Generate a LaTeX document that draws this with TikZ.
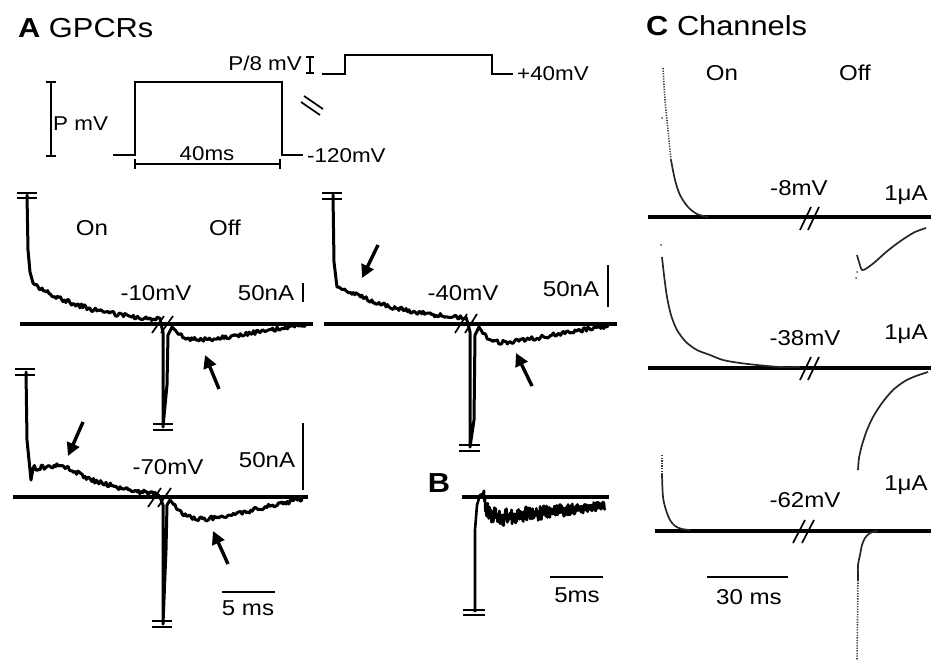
\documentclass[tikz,border=0pt]{standalone}
\usepackage{fontspec}
\setmainfont[FakeStretch=1.12]{Liberation Sans}
\usetikzlibrary{arrows.meta}
\begin{document}
\begin{tikzpicture}[x=1pt,y=-1pt,
  trace/.style={line width=3pt,line join=round,line cap=round},
  base/.style={line width=3.4pt},
  cbase/.style={line width=3.8pt},
  lbl/.style={font=\fontsize{21.5}{24}\selectfont,inner sep=0pt},
  plbl/.style={font=\fontsize{20}{22}\selectfont,inner sep=0pt},
  ttl/.style={font=\fontsize{27.5}{30}\selectfont,inner sep=0pt},
  brk/.style={line width=1.7pt},
  eqm/.style={line width=1.9pt},
  arr/.style={line width=3.4pt,-{Triangle[length=13pt,width=13pt]}},
  proto/.style={line width=1.7pt},
  sbar/.style={line width=1.7pt},
  ctr/.style={line width=1.7pt,black!85,line join=round},
  cdot/.style={line width=1.6pt,black!75,dash pattern=on 1.3pt off 1.3pt}]
\useasboundingbox (0,0) rectangle (931,664);
\pgfmathsetseed{7}

% ---------- titles ----------
\node[ttl,anchor=base west] (tA) at (18,37) {\textbf{A} GPCRs};
\node[ttl,anchor=base west] (tC) at (646,35) {\textbf{C} Channels};

% ---------- protocol ----------
\draw[proto] (51,82) -- (51,156) (46,82) -- (56,82) (46,156) -- (56,156);
\node[plbl,anchor=base west] (pmv) at (53,130) {P mV};
\draw[proto] (113,155) -- (135,155) -- (135,82) -- (282,82) -- (282,155) -- (303,155);
\node[plbl,anchor=base west] (m120) at (307,162) {-120mV};
\node[plbl,anchor=base] (t40) at (207,160) {40ms};
\draw[proto] (135,164) -- (280,164) (135,159) -- (135,169) (280,159) -- (280,169);
\node[plbl,anchor=base east] (p8) at (302,70) {P/8 mV};
\draw[proto] (310,57) -- (310,73) (306,57) -- (314,57) (306,73) -- (314,73);
\draw[proto] (322,74) -- (345,74) -- (345,55) -- (492,55) -- (492,74) -- (513,74);
\node[plbl,anchor=base west] (p40) at (517,80) {+40mV};
\draw[proto] (304,96) -- (323,109) (301,102) -- (320,115);

% ---------- trace 1 (-10 mV) ----------
\draw[base] (20,324) -- (313,324);
\draw[eqm] (17,193) -- (37,193) (17,198) -- (37,198);
\draw[trace] (27,195) -- (28,250) -- (30,272) -- (33,283)
  -- plot[domain=35:160,samples=90] (\x,{324-41*exp(-(\x-33)/58)+2.2*rand}) -- (161,324)
  -- (163,332) -- (163,427) -- (167,385) -- (168,335) -- (172,327)
  -- plot[domain=174:305,samples=90] (\x,{324+22*(1-exp(-(\x-172)/12))*(1-(\x-172)/135)+2*rand});
\draw[eqm] (153,424) -- (173,424) (153,430) -- (173,430);
\draw[brk] (152,333) -- (164,316) (161,333) -- (173,316);
\node[lbl,anchor=base] (on1) at (92,235) {On};
\node[lbl,anchor=base] (off1) at (225,235) {Off};
\node[lbl,anchor=base] (v1) at (156,300) {-10mV};
\node[lbl,anchor=base] (s1) at (266,300) {50nA};
\draw[sbar] (303,283) -- (303,302);
\draw[arr] (219,389) -- (205,355);

% ---------- trace 2 (-40 mV) ----------
\draw[base] (324,324) -- (617,324);
\draw[eqm] (322,193) -- (342,193) (322,199) -- (342,199);
\draw[trace] (333,195) -- (334,262) -- (337,287)
  -- plot[domain=339:466,samples=90] (\x,{324-37*exp(-(\x-337)/70)-3*exp(-((\x-358)/7)^2)+2.2*rand}) -- (468,324)
  -- (470,332) -- (470,447) -- (474,420) -- (475,335) -- (479,327)
  -- plot[domain=480:608,samples=90] (\x,{324+24*(1-exp(-(\x-478)/10))*(1-(\x-478)/140)+2.2*rand});
\draw[eqm] (459,445) -- (480,445) (459,451) -- (480,451);
\draw[brk] (455,333) -- (467,314) (465,333) -- (477,314);
\node[lbl,anchor=base] (v2) at (463,300) {-40mV};
\node[lbl,anchor=base] (s2) at (571,296) {50nA};
\draw[sbar] (608,265) -- (608,307);
\draw[arr] (378,245) -- (362,278);
\draw[arr] (532,386) -- (516,353);

% ---------- trace 3 (-70 mV) ----------
\draw[base] (13,497) -- (308,497);
\draw[eqm] (15,369) -- (35,369) (15,375) -- (35,375);
\draw[trace] (26,372) -- (27,440) -- (31,480)
  -- plot[domain=33:158,samples=90] (\x,{497-28*(1-(\x-31)/135)-9*exp(-((\x-62)/22)^2)+2.4*rand}) -- (160,497)
  -- (163,505) -- (163,624) -- (166,550) -- (167,505) -- (170,500)
  -- plot[domain=172:302,samples=90] (\x,{497+32*(1-exp(-(\x-170)/15))*(1-(\x-170)/140)+2.2*rand});
\draw[eqm] (152,621) -- (172,621) (152,627) -- (172,627);
\draw[brk] (148,507) -- (161,488) (158,507) -- (171,488);
\node[lbl,anchor=base] (v3) at (168,474) {-70mV};
\node[lbl,anchor=base] (s3) at (267,467) {50nA};
\draw[sbar] (303,423) -- (303,490);
\draw[arr] (83,422) -- (68,456);
\draw[arr] (228,564) -- (213,531);
\draw[sbar] (222,592) -- (275,592);
\node[lbl,anchor=base] (ms5) at (248,615) {5 ms};

% ---------- panel B ----------
\node[ttl,anchor=base] (tB) at (439,492) {\textbf{B}};
\draw[base] (462,497) -- (609,497);
\draw[line width=2.6pt,line join=round] (475,612) -- (475,530) -- (477,505) -- (480,495) -- (483,494)
  -- plot[domain=484:605,samples=260] (\x,{497+(1-exp(-(\x-483)/6))*(23-0.12*(\x-483))+10*(1-(\x-483)/210)*rand});
\draw[line width=6pt,line join=round] plot[domain=488:603,samples=40] (\x,{497+(1-exp(-(\x-483)/6))*(23-0.12*(\x-483))});
\draw[eqm] (463,610) -- (485,610) (463,615) -- (485,615);
\draw[sbar] (550,577) -- (603,577);
\node[lbl,anchor=base] (ms5b) at (577,602) {5ms};

% ---------- panel C ----------
\node[lbl,anchor=base] (onc) at (722,80) {On};
\node[lbl,anchor=base] (offc) at (855,80) {Off};
% C1
\draw[cbase] (648,217) -- (931,217);
\draw[cdot] plot[smooth] coordinates {(663,68) (665,100) (668,130) (671,160)};
\draw[ctr] plot[smooth] coordinates {(671,160) (675,180) (680,195) (688,207) (697,214) (708,217)};
\fill[black!70] (662,118) circle (1pt);
\draw[ctr] plot[smooth] coordinates {(857,255) (859,262) (862,270) (867,268) (875,262) (885,253) (895,245) (905,238) (915,232) (926,228)};
\fill[black!70] (857,272) circle (1pt) (856,278) circle (1pt);
\draw[brk] (800,230) -- (811,207) (808,230) -- (819,207);
\node[lbl,anchor=base] (vc1) at (799,195) {-8mV};
\node[lbl,anchor=base] (sc1) at (906,200) {1μA};
% C2
\draw[cbase] (648,368) -- (931,368);
\fill[black!70] (661,245) circle (1pt);
\draw[ctr] plot[smooth] coordinates {(662,257) (664,275) (667,297) (671,315) (677,330) (686,342) (697,350) (710,355) (723,360) (740,363) (757,365) (780,367) (800,367)};
\draw[ctr] plot[smooth] coordinates {(858,470) (859,458) (862,445) (867,430) (873,417) (882,403) (893,390) (905,381) (916,376) (928,372)};
\draw[brk] (800,380) -- (811,357) (808,380) -- (819,357);
\node[lbl,anchor=base] (vc2) at (805,345) {-38mV};
\node[lbl,anchor=base] (sc2) at (906,339) {1μA};
% C3
\draw[cbase] (655,531) -- (931,531);
\draw[cdot] (662,455) -- (662,475);
\draw[ctr] plot[smooth] coordinates {(662,475) (663,497) (666,510) (670,520) (675,526) (682,529) (690,530)};
\draw[ctr] plot[smooth] coordinates {(878,531) (870,533) (865,538) (862,545) (860,555) (858,565) (858,580)};
\draw[cdot] (858,580) -- (857,660);
\draw[brk] (793,543) -- (805,520) (802,543) -- (814,520);
\node[lbl,anchor=base] (vc3) at (805,507) {-62mV};
\node[lbl,anchor=base] (sc3) at (906,490) {1μA};
\draw[sbar] (707,577) -- (788,577);
\node[lbl,anchor=base] (ms30) at (749,604) {30 ms};
\end{tikzpicture}
\end{document}
